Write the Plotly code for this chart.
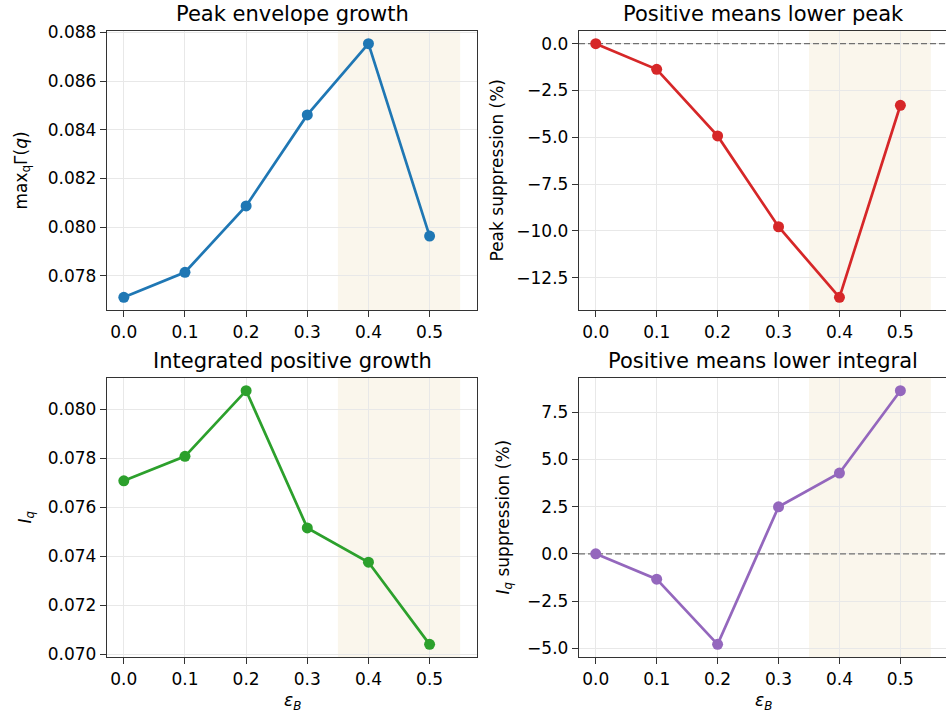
import plotly.graph_objects as go

# ---------------- data ----------------
eps = [0.0, 0.1, 0.2, 0.3, 0.4, 0.5]
peak_growth = [0.07711, 0.07814, 0.08087, 0.08461, 0.08754, 0.07963]
peak_supp = [0.0, -1.37, -4.93, -9.78, -13.55, -3.29]
integ_growth = [0.07707, 0.07807, 0.08075, 0.07515, 0.07375, 0.07040]
integ_supp = [0.0, -1.34, -4.79, 2.49, 4.28, 8.64]

x_ticks = [0.0, 0.1, 0.2, 0.3, 0.4, 0.5]
peak_ticks = [0.078, 0.080, 0.082, 0.084, 0.086, 0.088]
peak_supp_ticks = [0.0, -2.5, -5.0, -7.5, -10.0, -12.5]
integ_ticks = [0.070, 0.072, 0.074, 0.076, 0.078, 0.080]
integ_supp_ticks = [-5.0, -2.5, 0.0, 2.5, 5.0, 7.5]

span = [0.35, 0.55]
zero_level = 0.0

titles = ["Peak envelope growth", "Positive means lower peak",
          "Integrated positive growth", "Positive means lower integral"]
ylabels = ["max<sub>q</sub>Γ(<i>q</i>)", "Peak suppression (%)",
           "<i>I<sub>q</sub></i>", "<i>I<sub>q</sub></i> suppression (%)"]
xlabel = "<i>ε<sub>B</sub></i>"

# ---------------- layout helpers ----------------
W, H = 946, 717
FONT = "DejaVu Sans"
FRAME = "#333333"
GRID = "#e8e8e8"
SPAN_COLOR = "#faf6ec"


def px_x(p):
    return p / W


def px_y(p):
    return 1 - p / H


def fmt(v, nd):
    s = f"{v:.{nd}f}"
    return s.replace("-", "\u2212")


def pad_range(vals, frac=0.05):
    lo, hi = min(vals), max(vals)
    m = (hi - lo) * frac
    return [lo - m, hi + m]


# panel pixel boxes (left, right, top, bottom)
boxes = [(107, 477, 31, 310), (579, 946, 31, 310),
         (107, 477, 378, 657), (579, 946, 378, 657)]
series = [peak_growth, peak_supp, integ_growth, integ_supp]
yticks = [peak_ticks, peak_supp_ticks, integ_ticks, integ_supp_ticks]
ydec = [3, 1, 3, 1]
colors = ["#1f77b4", "#d62728", "#2ca02c", "#9467bd"]
ylabel_x = [22, 496, 26, 504]

xr_full = pad_range([0.0, span[1]])
unit_px = (477 - 107) / (xr_full[1] - xr_full[0])

fig = go.Figure()
shapes = []
annotations = []

for i in range(4):
    n = i + 1
    xa = "xaxis" if n == 1 else f"xaxis{n}"
    ya = "yaxis" if n == 1 else f"yaxis{n}"
    xref = "x" if n == 1 else f"x{n}"
    yref = "y" if n == 1 else f"y{n}"
    l, r, t, b = boxes[i]
    if r >= W:
        xr = [xr_full[0], xr_full[0] + (r + 1.4 - l) / unit_px]
    else:
        xr = xr_full

    # zero reference line for suppression panels (drawn beneath the data)
    if i in (1, 3):
        fig.add_trace(go.Scatter(
            x=xr, y=[zero_level, zero_level], mode="lines",
            line=dict(color="#707070", width=1.3, dash="6px,3px"),
            xaxis=xref, yaxis=yref, showlegend=False, hoverinfo="skip"))

    fig.add_trace(go.Scatter(
        x=eps, y=series[i], mode="lines+markers",
        line=dict(color=colors[i], width=2.7),
        marker=dict(color=colors[i], size=11),
        xaxis=xref, yaxis=yref, showlegend=False, cliponaxis=False))

    fig.layout[xa] = dict(
        domain=[px_x(l), px_x(r)], range=xr, anchor=yref, automargin=False,
        tickvals=x_ticks, ticktext=[fmt(v, 1) for v in x_ticks],
        ticks="outside", ticklen=6, tickwidth=1.4, tickcolor=FRAME,
        showline=True, mirror=True, linecolor=FRAME, linewidth=1.4,
        showgrid=True, gridcolor=GRID, gridwidth=1, zeroline=False,
        tickfont=dict(family=FONT, size=17, color="black"))
    fig.layout[ya] = dict(
        domain=[px_y(b), px_y(t)], range=pad_range(series[i]), anchor=xref,
        automargin=False,
        tickvals=yticks[i], ticktext=[fmt(v, ydec[i]) for v in yticks[i]],
        ticks="outside", ticklen=6, tickwidth=1.4, tickcolor=FRAME,
        showline=True, mirror=(r < W), linecolor=FRAME, linewidth=1.4,
        showgrid=True, gridcolor=GRID, gridwidth=1, zeroline=False,
        tickfont=dict(family=FONT, size=17, color="black"))

    # shaded region
    shapes.append(dict(type="rect", xref=xref, yref=f"{yref} domain",
                       x0=span[0], x1=span[1], y0=0, y1=1,
                       fillcolor=SPAN_COLOR, line=dict(width=0), layer="below"))

    cx = (l + (r if r < W else 947.4)) / 2
    # title
    annotations.append(dict(text=titles[i], xref="paper", yref="paper",
                            x=px_x(cx), y=px_y(t - 17), xanchor="center", yanchor="middle",
                            showarrow=False, font=dict(family=FONT, size=21, color="black")))
    # y label
    annotations.append(dict(text=ylabels[i], xref="paper", yref="paper",
                            x=px_x(ylabel_x[i]), y=px_y((t + b) / 2),
                            xanchor="center", yanchor="middle", textangle=-90,
                            showarrow=False, font=dict(family=FONT, size=17, color="black")))
    # x label (bottom row only)
    if i >= 2:
        annotations.append(dict(text=xlabel, xref="paper", yref="paper",
                                x=px_x(cx), y=px_y(701),
                                xanchor="center", yanchor="middle",
                                showarrow=False, font=dict(family=FONT, size=17, color="black")))

fig.update_layout(
    width=W, height=H, margin=dict(l=0, r=0, t=0, b=0, autoexpand=False),
    paper_bgcolor="white", plot_bgcolor="white",
    shapes=shapes, annotations=annotations,
    font=dict(family=FONT, size=17, color="black"))

fig.write_html("out.html")
